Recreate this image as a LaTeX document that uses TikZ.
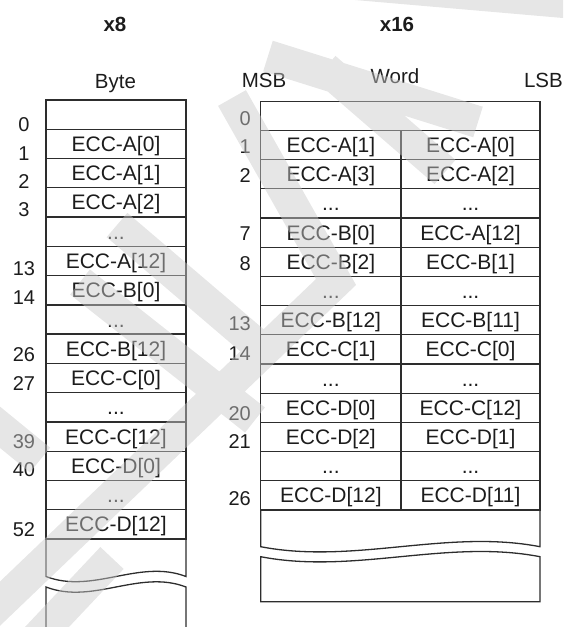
\documentclass[tikz,border=0pt]{standalone}
\usepackage{fontspec}
\setmainfont{Liberation Sans}
\definecolor{linec}{RGB}{45,45,45}
\definecolor{txt}{RGB}{28,28,28}
\definecolor{wmc}{RGB}{202,202,202}
\tikzset{
  cell/.style={draw=linec, line width=1.3pt, minimum width=#1, minimum height=29.25pt,
    inner sep=0pt, outer sep=0pt, font=\fontsize{21}{24}\selectfont, text=txt,
    text height=15pt, text depth=0pt},
  num/.style={anchor=base, inner sep=0pt, font=\fontsize{20}{24}\selectfont, text=txt},
  rnum/.style={anchor=base east, inner sep=0pt, font=\fontsize{20}{24}\selectfont, text=txt},
  head/.style={anchor=base, inner sep=0pt, font=\fontsize{20.5}{24}\selectfont, text=txt},
  bhead/.style={anchor=base, inner sep=0pt, font=\fontsize{20.5}{24}\selectfont\bfseries, text=txt},
  tail/.style={draw=linec, line width=1.3pt},
  wm/.style={draw=wmc, line width=32pt, draw opacity=0.47, line join=miter},
  wmfill/.style={fill=wmc, fill opacity=0.47}
}
\begin{document}
\begin{tikzpicture}[x=1pt,y=-1pt]
\useasboundingbox (0,0) rectangle (563,627);

% headers
\node[bhead] (hx8) at (115,31.5) {x8};
\node[bhead] (hx16) at (397,31) {x16};
\node[head] (hbyte) at (115.5,88.3) {Byte};
\node[head] (hmsb) at (264,87.3) {MSB};
\node[head] (hword) at (395,83.3) {Word};
\node[head, anchor=base east] (hlsb) at (563,87.3) {LSB};

% left column (x8)
\node[cell=140pt] (L0) at (116,114.6) {};
\node[cell=140pt] (L1) at (116,143.9) {ECC-A[0]};
\node[cell=140pt] (L2) at (116,173.2) {ECC-A[1]};
\node[cell=140pt] (L3) at (116,202.4) {ECC-A[2]};
\node[cell=140pt] (L4) at (116,231.7) {...};
\node[cell=140pt] (L5) at (116,261.0) {ECC-A[12]};
\node[cell=140pt] (L6) at (116,290.3) {ECC-B[0]};
\node[cell=140pt] (L7) at (116,319.5) {...};
\node[cell=140pt] (L8) at (116,348.8) {ECC-B[12]};
\node[cell=140pt] (L9) at (116,378.1) {ECC-C[0]};
\node[cell=140pt] (L10) at (116,407.3) {...};
\node[cell=140pt] (L11) at (116,436.6) {ECC-C[12]};
\node[cell=140pt] (L12) at (116,465.9) {ECC-D[0]};
\node[cell=140pt] (L13) at (116,495.2) {...};
\node[cell=140pt] (L14) at (116,524.4) {ECC-D[12]};

\draw[tail] (L14.south west) -- (46,576.5)
  .. controls (92.7,594.5) and (139.3,558.5) .. (186,576.5) -- (L14.south east);
\draw[tail] (46,627) -- (46,587)
  .. controls (92.7,605) and (139.3,569) .. (186,587) -- (186,627);

% left numbers
\node[num] (n0) at (24,131.7) {0};
\node[num] (n1) at (24,160) {1};
\node[num] (n2) at (24,188) {2};
\node[num] (n3) at (24,216.7) {3};
\node[num] (n13) at (24,275) {13};
\node[num] (n14) at (24,304) {14};
\node[num] (n26) at (24,361.7) {26};
\node[num] (n27) at (24,390) {27};
\node[num] (n39) at (24,448.3) {39};
\node[num] (n40) at (24,476.7) {40};
\node[num] (n52) at (24,536.7) {52};

% right column (x16)
\node[cell=279.3pt] (R0) at (400.35,115.8) {};
\node[cell=140.3pt] (R1a) at (330.85,145.0) {ECC-A[1]};
\node[cell=139pt] (R1b) at (470.5,145.0) {ECC-A[0]};
\node[cell=140.3pt] (R2a) at (330.85,174.2) {ECC-A[3]};
\node[cell=139pt] (R2b) at (470.5,174.2) {ECC-A[2]};
\node[cell=140.3pt] (R3a) at (330.85,203.4) {...};
\node[cell=139pt] (R3b) at (470.5,203.4) {...};
\node[cell=140.3pt] (R4a) at (330.85,232.6) {ECC-B[0]};
\node[cell=139pt] (R4b) at (470.5,232.6) {ECC-A[12]};
\node[cell=140.3pt] (R5a) at (330.85,261.8) {ECC-B[2]};
\node[cell=139pt] (R5b) at (470.5,261.8) {ECC-B[1]};
\node[cell=140.3pt] (R6a) at (330.85,291.0) {...};
\node[cell=139pt] (R6b) at (470.5,291.0) {...};
\node[cell=140.3pt] (R7a) at (330.85,320.2) {ECC-B[12]};
\node[cell=139pt] (R7b) at (470.5,320.2) {ECC-B[11]};
\node[cell=140.3pt] (R8a) at (330.85,349.4) {ECC-C[1]};
\node[cell=139pt] (R8b) at (470.5,349.4) {ECC-C[0]};
\node[cell=140.3pt] (R9a) at (330.85,378.6) {...};
\node[cell=139pt] (R9b) at (470.5,378.6) {...};
\node[cell=140.3pt] (R10a) at (330.85,407.8) {ECC-D[0]};
\node[cell=139pt] (R10b) at (470.5,407.8) {ECC-C[12]};
\node[cell=140.3pt] (R11a) at (330.85,437.0) {ECC-D[2]};
\node[cell=139pt] (R11b) at (470.5,437.0) {ECC-D[1]};
\node[cell=140.3pt] (R12a) at (330.85,466.2) {...};
\node[cell=139pt] (R12b) at (470.5,466.2) {...};
\node[cell=140.3pt] (R13a) at (330.85,495.4) {ECC-D[12]};
\node[cell=139pt] (R13b) at (470.5,495.4) {ECC-D[11]};

\draw[tail] (R13a.south west) -- (260.7,546.7)
  .. controls (353.8,564.7) and (446.9,528.7) .. (540,546.7) -- (R13b.south east);
\draw[tail] (260.7,556.7) .. controls (353.8,574.7) and (446.9,538.7) .. (540,556.7)
  -- (540,601.7) -- (260.7,601.7) -- cycle;

% right numbers
\node[rnum] (m0) at (251,125) {0};
\node[rnum] (m1) at (251,153.3) {1};
\node[rnum] (m2) at (251,182.7) {2};
\node[rnum] (m7) at (251,240.7) {7};
\node[rnum] (m8) at (251,270) {8};
\node[rnum] (m13) at (251,330) {13};
\node[rnum] (m14) at (251,360) {14};
\node[rnum] (m20) at (251,420) {20};
\node[rnum] (m21) at (251,448.3) {21};
\node[rnum] (m26) at (251,505) {26};

% watermark bands
\fill[wmfill] (355,0) -- (563,0) -- (563,18) -- cycle;
\draw[wm] (268,56) -- (478,122)
          (325,68) -- (445,172)
          (232,98) -- (336,282) -- (-15,618)
          (117,225) -- (275,360)
          (80,282) -- (255,420)
          (-15,415) -- (40,460)
          (112,558) -- (30,645);
\end{tikzpicture}
\end{document}
